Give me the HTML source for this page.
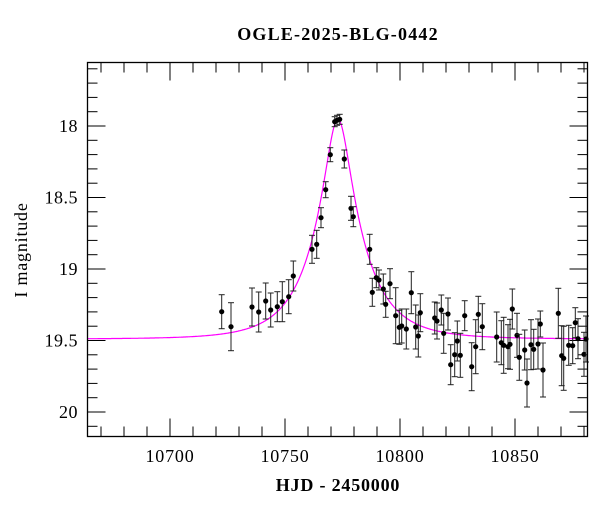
<!DOCTYPE html>
<html><head><meta charset="utf-8"><style>
html,body{margin:0;padding:0;background:#fff;}
svg{display:block;font-family:"Liberation Serif",serif;}
</style></head><body>
<svg id="s" width="600" height="512" viewBox="0 0 600 512" xmlns="http://www.w3.org/2000/svg">
<rect width="600" height="512" fill="#fff"/>
<text x="338" y="40" font-size="18" font-weight="bold" letter-spacing="1.2" text-anchor="middle">OGLE-2025-BLG-0442</text>
<text x="338" y="491" font-size="18" font-weight="bold" letter-spacing="0.8" text-anchor="middle">HJD - 2450000</text>
<text transform="translate(27,250) rotate(-90)" font-size="18" letter-spacing="0.8" text-anchor="middle">I magnitude</text>
<g font-size="18" text-anchor="end" letter-spacing="0.5">
<text x="78" y="132">18</text>
<text x="78" y="203.5">18.5</text>
<text x="78" y="275">19</text>
<text x="78" y="346.5">19.5</text>
<text x="78" y="418">20</text>
</g>
<g font-size="18" text-anchor="middle" letter-spacing="0.8">
<text x="170" y="462">10700</text>
<text x="285" y="462">10750</text>
<text x="400" y="462">10800</text>
<text x="515" y="462">10850</text>
</g>
<g id="ax" stroke="#000" stroke-width="1" fill="none"></g>
<g id="model"></g>
<g id="pts"></g>
<rect x="87.5" y="62.5" width="500" height="374" fill="none" stroke="#000" stroke-width="1.3"/>
</svg>
<script>
var NS="http://www.w3.org/2000/svg";
function el(p,t,a){var e=document.createElementNS(NS,t);for(var k in a)e.setAttribute(k,a[k]);p.appendChild(e);return e;}
var L=87.5,R=587.5,T=62.5,B=436.5;
function X(d){return 170+(d-10700)*2.3;}
function Y(m){return 126+(m-18)*143;}
var ax=document.getElementById('ax');
for(var d=10670;d<=10880;d+=10){var x=X(d);var len=(d%50==0)?18:10;
el(ax,'line',{x1:x,y1:B,x2:x,y2:B-len});el(ax,'line',{x1:x,y1:T,x2:x,y2:T+len});}
for(var i=0;i<=26;i++){var m=17.6+i*0.1;var y=Y(m);if(y<T||y>B)continue;var major=(Math.abs(m*2-Math.round(m*2))<1e-6);var len=major?18:10;
el(ax,'line',{x1:L,y1:y,x2:L+len,y2:y});el(ax,'line',{x1:R,y1:y,x2:R-len,y2:y});}
var pts=[];var u0=0.248,tE=20.8,t0=10773,base=19.49;
for(var x=L;x<=R;x+=0.5){var t=10700+(x-170)/2.3;var tau=(t-t0)/tE;var u=Math.sqrt(u0*u0+tau*tau);
var A=(u*u+2)/(u*Math.sqrt(u*u+4));var m=base-2.5*Math.log10(A);pts.push(x.toFixed(1)+','+Y(m).toFixed(1));}
el(document.getElementById('model'),'polyline',{points:pts.join(' '),fill:'none',stroke:'#ff00ff','stroke-width':1.2});
var D=[[221.7,311.7,17],[231,326.7,24],[252,307,19],[258.7,312,20],[265.7,301,18],[270.7,310,17],[277.3,306.7,15],[282.3,301.7,20],[288.7,296.7,17],[293.3,276,15],
[312,249.3,14],[316.7,244.3,14],[321,217.7,10],[325.7,189.7,8],[330.3,154.7,7],[334.7,121.7,5],[337,120.3,5],[339.7,119.3,5],[344.3,159,9],[351,208.3,12],[353.3,216.7,10],[369.7,249.3,15],[372.3,292.3,14],[376.3,277.7,10],[379,280,10],[383.3,289,15],[385.7,304.3,13],[390,283.7,15],[395.7,315.7,28],[399.3,327.3,17],[401.7,326,17],[406.3,329,20],[411.3,292.7,21],[415.7,327,22],[418.3,336,21],[420.3,312.7,19],[434.7,318,16],[437,321,18],[441.3,310,15],[443.7,333.3,20],[448,314,16],[450.7,364.7,20],[454.7,354.7,22],[457.3,341,20],[460.3,355.3,22],[464.7,315.7,15],[471.7,366.7,24],[475.7,346.7,27],[478.3,314.3,18],[482.3,326.7,23],[496.7,337,25],[501.3,342.7,22],[503.7,345.3,28],[508,346.7,22],[510,344.3,25],[512.3,309,20],[517,335.3,22],[519.3,357.3,23],[524.7,350,20],[527,383,24],[531,344.7,25],[533.7,349.3,20],[538,344,25],[540.3,324,13],[543,370,27],[558.3,313.3,25],[561.7,355.7,30],[563.7,358.3,32],[568.7,345.3,20],[572.7,345.7,18],[575.3,322.7,15],[578,338.7,20],[584,354.3,22],[586,339,23]];
var g=document.getElementById('pts');
D.forEach(function(p){var x=p[0],y=p[1],e=p[2];
el(g,'line',{x1:x,y1:y-e,x2:x,y2:y+e,stroke:'#222','stroke-width':1});
el(g,'line',{x1:x-3,y1:y-e,x2:x+3,y2:y-e,stroke:'#222','stroke-width':1});
el(g,'line',{x1:x-3,y1:y+e,x2:x+3,y2:y+e,stroke:'#222','stroke-width':1});
el(g,'circle',{cx:x,cy:y,r:2.6,fill:'#000'});});
</script>
</body></html>
